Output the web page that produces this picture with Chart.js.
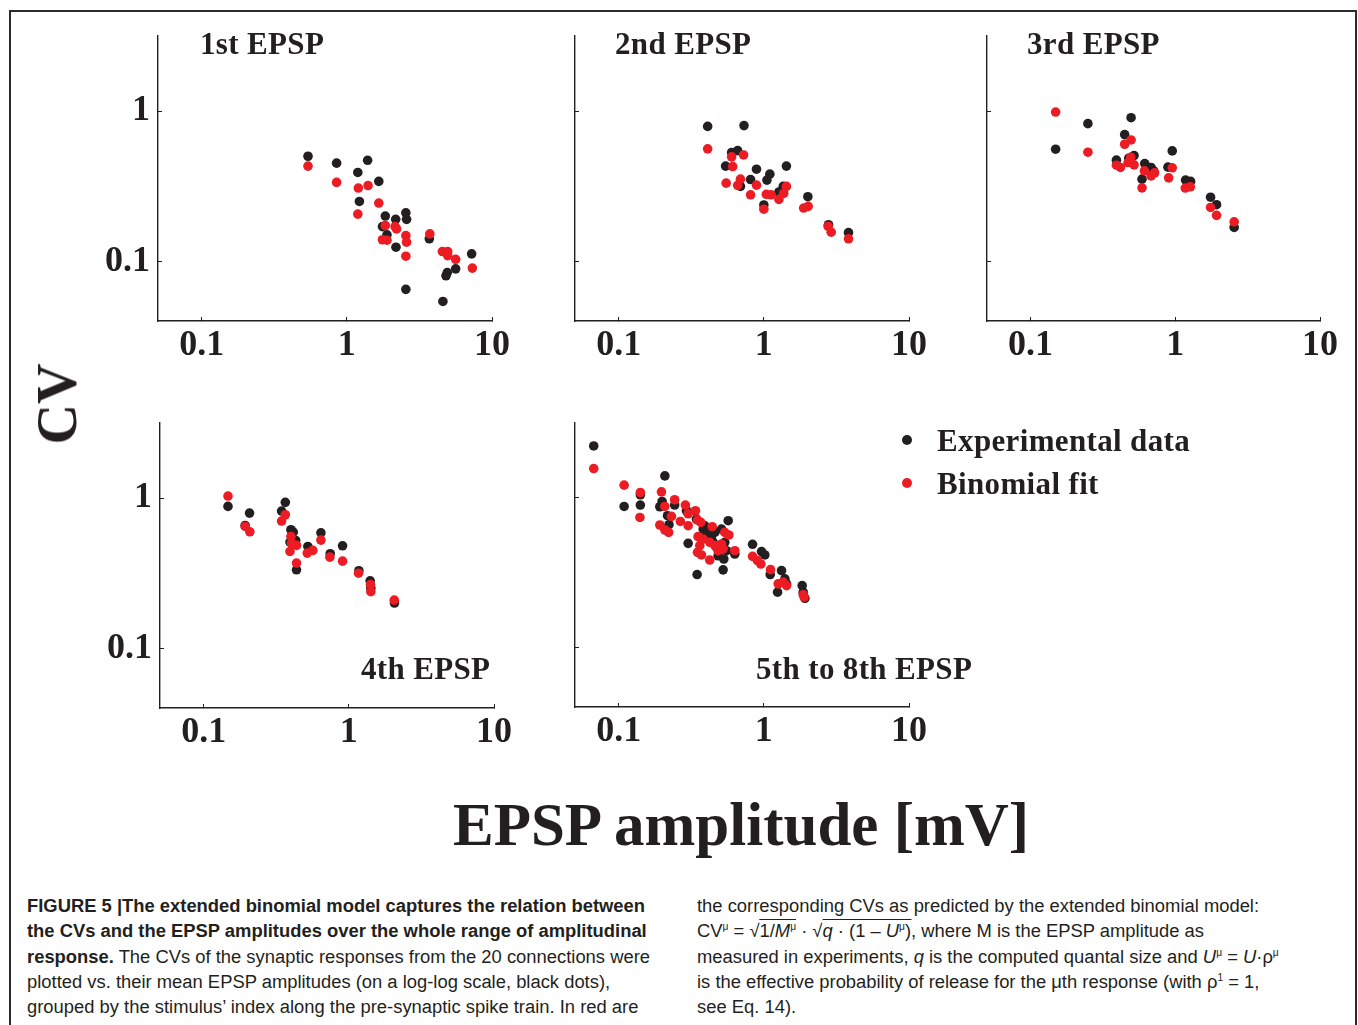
<!DOCTYPE html>
<html>
<head>
<meta charset="utf-8">
<script src="https://cdn.jsdelivr.net/npm/chart.js@4.4.0/dist/chart.umd.min.js"></script>
<style>
  body { margin: 0; background: #fff; width: 1358px; height: 1025px; overflow: hidden; position: relative;
         font-family: "Liberation Serif", serif; color: #231f20; }
  .frame { position: absolute; left: 9px; top: 10px; width: 1344px; height: 1100px; border: 2px solid #2b2b2b; }
  canvas { position: absolute; }
  .lbl { position: absolute; white-space: nowrap; font-weight: bold; line-height: 1; }
  .dot { position: absolute; width: 10px; height: 10px; border-radius: 50%; }
  .cap { position: absolute; font-family: "Liberation Sans", Arial, sans-serif; font-size: 18px; line-height: 25.3px;
         white-space: nowrap; transform-origin: 0 0; }
  .cap div { white-space: nowrap; }
  .rad { border-top: 1px solid #231f20; padding-top: 1px; }
  sup { font-size: 10px; line-height: 0; }
</style>
</head>
<body>
<div class="frame"></div>

<script>
// axis ticks and ranges
const xTicks = [0.1, 1, 10];
const yTicks = [0.1, 1];
const ampRange = [0.05, 10];
const cvRange = [0.04, 3.16];

// 1st EPSP
const epsp1ExpAmp = [0.54, 0.85, 1.39, 1.19, 1.66, 1.22, 1.84, 2.17, 2.55, 2.58, 1.76, 1.89, 2.18, 3.70, 7.24, 5.62, 4.92, 4.82, 2.55, 4.59];
const epsp1ExpCV  = [0.50, 0.45, 0.47, 0.39, 0.34, 0.25, 0.20, 0.19, 0.21, 0.19, 0.17, 0.15, 0.124, 0.141, 0.112, 0.089, 0.084, 0.080, 0.065, 0.054];
const epsp1FitAmp = [0.54, 0.85, 1.20, 1.40, 1.66, 1.19, 1.84, 2.15, 2.20, 2.55, 2.58, 1.76, 1.89, 2.55, 3.73, 4.55, 4.95, 4.95, 5.62, 7.32];
const epsp1FitCV  = [0.43, 0.335, 0.307, 0.319, 0.244, 0.206, 0.173, 0.170, 0.164, 0.148, 0.134, 0.139, 0.138, 0.108, 0.152, 0.116, 0.116, 0.109, 0.103, 0.090];

// 2nd EPSP
const epsp2ExpAmp = [0.41, 0.73, 0.60, 0.66, 0.545, 0.89, 0.81, 1.10, 1.05, 1.43, 0.69, 1.27, 1.36, 1.00, 2.01, 2.79, 3.83];
const epsp2ExpCV  = [0.79, 0.80, 0.53, 0.545, 0.43, 0.41, 0.35, 0.38, 0.347, 0.43, 0.315, 0.289, 0.315, 0.237, 0.269, 0.175, 0.155];
const epsp2FitAmp = [0.41, 0.60, 0.725, 0.61, 0.55, 0.69, 0.66, 0.89, 0.81, 1.04, 1.12, 1.27, 1.37, 1.43, 1.00, 1.88, 2.02, 2.77, 2.91, 3.83];
const epsp2FitCV  = [0.56, 0.495, 0.51, 0.427, 0.331, 0.352, 0.320, 0.321, 0.277, 0.279, 0.277, 0.258, 0.283, 0.315, 0.222, 0.226, 0.232, 0.171, 0.156, 0.141];

// 3rd EPSP
const epsp3ExpAmp = [0.149, 0.249, 0.495, 0.447, 0.392, 0.519, 0.477, 0.615, 0.680, 0.709, 0.589, 0.953, 0.890, 1.178, 1.276, 1.753, 1.928, 2.552];
const epsp3ExpCV  = [0.557, 0.824, 0.903, 0.697, 0.471, 0.505, 0.485, 0.447, 0.421, 0.400, 0.352, 0.543, 0.423, 0.347, 0.340, 0.267, 0.238, 0.168];
const epsp3FitAmp = [0.149, 0.249, 0.495, 0.447, 0.392, 0.418, 0.472, 0.492, 0.519, 0.612, 0.589, 0.680, 0.720, 0.900, 0.953, 1.172, 1.270, 1.753, 1.928, 2.552];
const epsp3FitCV  = [0.985, 0.532, 0.642, 0.601, 0.436, 0.421, 0.454, 0.493, 0.438, 0.400, 0.308, 0.370, 0.388, 0.359, 0.419, 0.307, 0.313, 0.228, 0.202, 0.183];

// 4th EPSP
const epsp4ExpAmp = [0.147, 0.207, 0.365, 0.344, 0.193, 0.399, 0.414, 0.393, 0.430, 0.436, 0.522, 0.642, 0.744, 0.905, 1.172, 1.402, 1.417, 2.062];
const epsp4ExpCV  = [0.880, 0.794, 0.936, 0.819, 0.657, 0.615, 0.593, 0.509, 0.522, 0.333, 0.476, 0.587, 0.426, 0.481, 0.328, 0.281, 0.251, 0.200];
const epsp4FitAmp = [0.147, 0.193, 0.208, 0.344, 0.365, 0.399, 0.403, 0.436, 0.393, 0.436, 0.517, 0.565, 0.642, 0.740, 0.905, 1.166, 1.410, 1.417, 2.055];
const epsp4FitCV  = [1.031, 0.647, 0.596, 0.703, 0.774, 0.555, 0.501, 0.484, 0.441, 0.369, 0.430, 0.448, 0.525, 0.404, 0.380, 0.316, 0.265, 0.238, 0.209];

// 5th to 8th EPSP
const epsp5ExpAmp = [0.0673, 0.208, 0.109, 0.141, 0.141, 0.192, 0.199, 0.243, 0.217, 0.222, 0.293, 0.343, 0.301, 0.347,
                     0.382, 0.403, 0.436, 0.459, 0.511, 0.568, 0.538, 0.484, 0.530, 0.524, 0.631, 0.836, 0.964, 1.016,
                     1.106, 1.324, 1.396, 1.434, 1.243, 1.837, 1.867, 1.918, 0.392, 0.414, 0.472, 0.553, 0.447];
const epsp5ExpCV  = [2.22, 1.40, 0.875, 1.047, 0.894, 0.871, 0.945, 0.894, 0.759, 0.661, 0.819, 0.721, 0.496, 0.307,
                     0.618, 0.558, 0.530, 0.587, 0.618, 0.703, 0.504, 0.410, 0.390, 0.330, 0.421, 0.489, 0.437, 0.415,
                     0.307, 0.326, 0.287, 0.266, 0.234, 0.259, 0.234, 0.213, 0.650, 0.587, 0.467, 0.443, 0.504];
const epsp5FitAmp = [0.0673, 0.109, 0.141, 0.140, 0.197, 0.208, 0.243, 0.231, 0.192, 0.208, 0.221, 0.266, 0.288, 0.301,
                     0.338, 0.301, 0.349, 0.368, 0.441, 0.352, 0.382, 0.362, 0.349, 0.372, 0.424, 0.459, 0.511, 0.424,
                     0.484, 0.524, 0.538, 0.574, 0.631, 0.836, 0.904, 0.953, 1.112, 1.255, 1.359, 1.434, 1.867, 1.897];
const epsp5FitCV  = [1.568, 1.215, 1.085, 0.739, 1.096, 0.875, 0.970, 0.751, 0.658, 0.609, 0.587, 0.695, 0.894, 0.782,
                     0.819, 0.651, 0.710, 0.685, 0.641, 0.550, 0.530, 0.479, 0.432, 0.415, 0.504, 0.479, 0.491, 0.384,
                     0.443, 0.455, 0.587, 0.564, 0.443, 0.406, 0.380, 0.361, 0.331, 0.266, 0.273, 0.259, 0.225, 0.217];

const ink = '#231f20';
const black = '#231f20';
const red = '#ed1c24';

// chart area of each panel: left, top, right, bottom (page pixels)
const panels = [
  { area: [158, 36, 492, 321], yLabels: true,  exp: [epsp1ExpAmp, epsp1ExpCV], fit: [epsp1FitAmp, epsp1FitCV] },
  { area: [575, 36, 909, 321], yLabels: false, exp: [epsp2ExpAmp, epsp2ExpCV], fit: [epsp2FitAmp, epsp2FitCV] },
  { area: [987, 36, 1320, 321], yLabels: false, exp: [epsp3ExpAmp, epsp3ExpCV], fit: [epsp3FitAmp, epsp3FitCV] },
  { area: [160, 423, 494, 708], yLabels: true,  exp: [epsp4ExpAmp, epsp4ExpCV], fit: [epsp4FitAmp, epsp4FitCV] },
  { area: [575, 423, 909, 707], yLabels: false, exp: [epsp5ExpAmp, epsp5ExpCV], fit: [epsp5FitAmp, epsp5FitCV] }
];

function logAxis(range, ticks, thickness, showLabels, isX) {
  return {
    type: 'logarithmic',
    position: isX ? 'bottom' : 'left',
    min: range[0],
    max: range[1],
    border: { display: true, color: ink, width: 1.4 },
    grid: { drawOnChartArea: false, drawTicks: true, tickLength: -4, color: ink, lineWidth: 1 },
    ticks: {
      display: showLabels,
      padding: isX ? 7 : 12,
      color: ink,
      autoSkip: false,
      maxRotation: 0,
      font: { family: 'Liberation Serif', size: 36, weight: 'bold' },
      callback: v => String(v)
    },
    afterBuildTicks: s => { s.ticks = ticks.map(v => ({ value: v })); },
    afterFit: s => {
      if (isX) s.height = thickness; else s.width = thickness;
      s.paddingLeft = s.paddingRight = s.paddingTop = s.paddingBottom = 0;
    }
  };
}

function makeChart(panel) {
  const [left, top, right, bottom] = panel.area;
  const padL = 75, padT = 12, padR = 32, padB = 55;
  const canvas = document.createElement('canvas');
  canvas.width = right - left + padL + padR;
  canvas.height = bottom - top + padT + padB;
  canvas.style.left = (left - padL) + 'px';
  canvas.style.top = (top - padT) + 'px';
  document.body.appendChild(canvas);

  const toPoints = (xs, ys) => xs.map((x, i) => ({ x: x, y: ys[i] }));

  return new Chart(canvas.getContext('2d'), {
    type: 'scatter',
    data: {
      datasets: [
        { label: 'Experimental data', data: toPoints(panel.exp[0], panel.exp[1]), backgroundColor: black, order: 2 },
        { label: 'Binomial fit', data: toPoints(panel.fit[0], panel.fit[1]), backgroundColor: red, order: 1 }
      ]
    },
    options: {
      responsive: false,
      animation: false,
      layout: { padding: { left: 0, top: padT, right: padR, bottom: 0 } },
      elements: { point: { radius: 4.8, hoverRadius: 4.8, borderWidth: 0 } },
      plugins: { legend: { display: false }, tooltip: { enabled: false } },
      scales: {
        x: logAxis(ampRange, xTicks, padB, true, true),
        y: logAxis(cvRange, yTicks, padL, panel.yLabels, false)
      }
    }
  });
}

panels.forEach(makeChart);

// text labels: text, left, cap-centre y, font size
function addLabel(text, x, cy, size, extra) {
  const d = document.createElement('div');
  d.className = 'lbl';
  d.textContent = text;
  d.style.left = x + 'px';
  d.style.top = (cy - size / 2) + 'px';
  d.style.fontSize = size + 'px';
  if (extra) Object.assign(d.style, extra);
  document.body.appendChild(d);
  return d;
}

const wide = { letterSpacing: '0.35px' };
addLabel('1st EPSP', 200, 43, 31, wide);
addLabel('2nd EPSP', 615, 43, 31, wide);
addLabel('3rd EPSP', 1027, 43, 31, wide);
addLabel('4th EPSP', 361, 668, 31, wide);
addLabel('5th to 8th EPSP', 756, 668, 31, wide);
addLabel('EPSP amplitude [mV]', 453, 824, 61);
const cv = addLabel('CV', 0, 0, 56);
cv.style.left = '57px';
cv.style.top = '404px';
cv.style.transform = 'translate(-50%, -50%) rotate(-90deg)';

// legend
[['Experimental data', black, 440], ['Binomial fit', red, 483]].forEach(([name, colour, y]) => {
  const dot = document.createElement('div');
  dot.className = 'dot';
  dot.style.background = colour;
  dot.style.left = '902px';
  dot.style.top = (y - 5) + 'px';
  document.body.appendChild(dot);
  addLabel(name, 937, y, 31, wide);
});
</script>

<div class="cap" id="capL" style="left:27px; top:894px;">
  <div><b>FIGURE 5 |The extended binomial model captures the relation between</b></div>
  <div><b>the CVs and the EPSP amplitudes over the whole range of amplitudinal</b></div>
  <div><b>response.</b> The CVs of the synaptic responses from the 20 connections were</div>
  <div>plotted vs. their mean EPSP amplitudes (on a log-log scale, black dots),</div>
  <div>grouped by the stimulus’ index along the pre-synaptic spike train. In red are</div>
</div>
<div class="cap" id="capR" style="left:697px; top:894px;">
  <div>the corresponding CVs as predicted by the extended binomial model:</div>
  <div>CV<sup>μ</sup> = √<span class="rad">1/<i>M</i><sup>μ</sup></span> · √<span class="rad"><i>q</i> · (1 – <i>U</i><sup>μ</sup>)</span>, where M is the EPSP amplitude as</div>
  <div>measured in experiments, <i>q</i> is the computed quantal size and <i>U</i><sup>μ</sup> = <i>U</i>·ρ<sup>μ</sup></div>
  <div>is the effective probability of release for the μth response (with ρ<sup>1</sup> = 1,</div>
  <div>see Eq. 14).</div>
</div>
<script>
  // squeeze the caption to the narrow face of the original
  const firstLine = document.querySelector('#capL div');
  const k = 623 / firstLine.getBoundingClientRect().width;
  document.querySelectorAll('.cap').forEach(c => { c.style.transform = 'scaleX(' + k + ')'; });
</script>
</body>
</html>
